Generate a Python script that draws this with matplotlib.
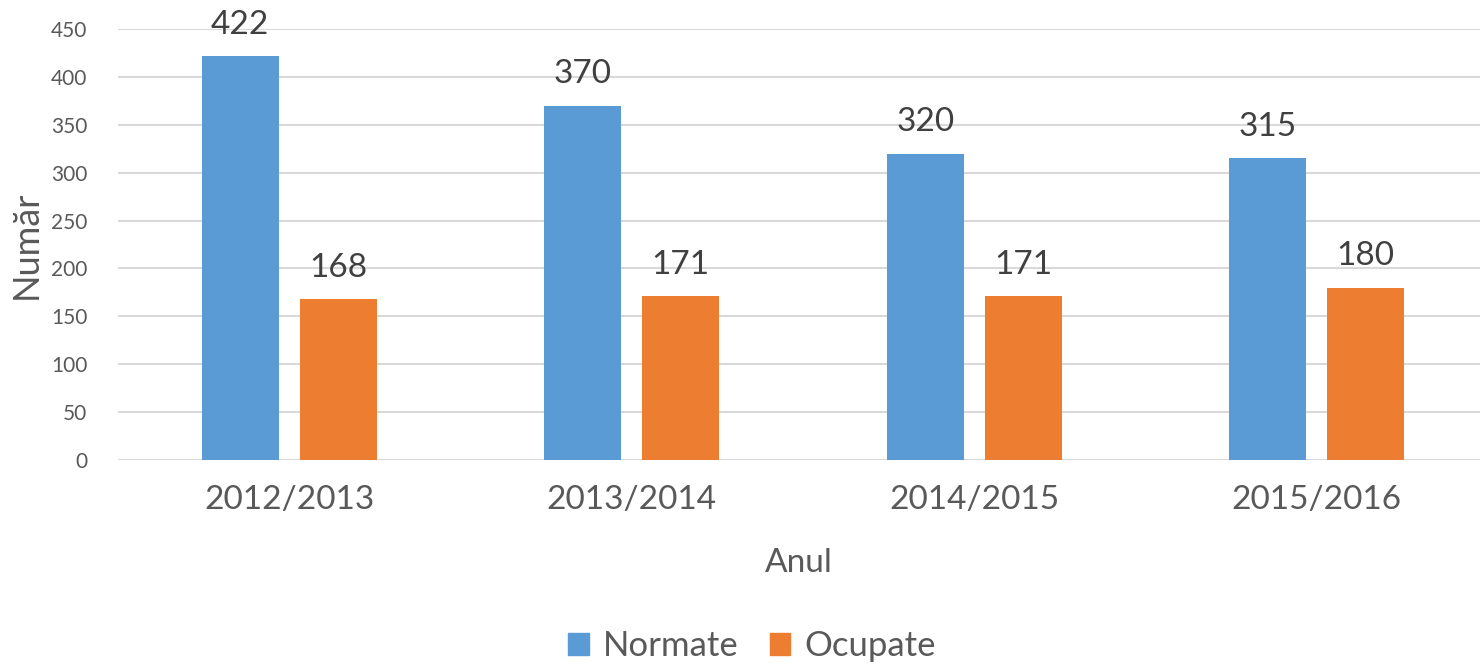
import numpy as np
import matplotlib.pyplot as plt
from matplotlib.patches import Patch

plt.rcParams['font.family'] = ['Lato', 'DejaVu Sans']

# data
years = ["2012/2013", "2013/2014", "2014/2015", "2015/2016"]
normate = [422, 370, 320, 315]
ocupate = [168, 171, 171, 180]

blue = "#5B9BD5"
orange = "#ED7D31"
grey_txt = "#595959"

fig = plt.figure(figsize=(14.8, 6.65), dpi=100)
ax = fig.add_axes([118 / 1480, 1 - 460 / 665, 1 - 118 / 1480, (460 - 29) / 665])

x = np.arange(len(years))
w = 0.225
off = 0.143

b1 = ax.bar(x - off, normate, w, color=blue, zorder=3)
b2 = ax.bar(x + off, ocupate, w, color=orange, zorder=3)

for bars, vals in ((b1, normate), (b2, ocupate)):
    for rect, v in zip(bars, vals):
        ax.annotate(str(v), (rect.get_x() + rect.get_width() / 2, v),
                    xytext=(0, 16), textcoords="offset points",
                    ha="center", va="baseline", fontsize=24,
                    color="#404040", annotation_clip=False)

ax.set_xlim(-0.5, (1480 - 118) / 342.5 - 0.5)
ax.set_ylim(0, 450)
ax.set_yticks(np.arange(0, 451, 50))
ax.set_xticks(x)
ax.set_xticklabels(years, fontsize=24, color=grey_txt)
ax.tick_params(axis="y", labelsize=15, labelcolor=grey_txt, length=0, pad=22)
ax.tick_params(axis="x", length=0, pad=18)
ax.grid(axis="y", color="#D9D9D9", linewidth=1.5, zorder=0)
for s in ax.spines.values():
    s.set_visible(False)

ax.set_xlabel("Anul", fontsize=24, color=grey_txt, labelpad=24)
ax.set_ylabel("Număr", fontsize=26, color=grey_txt, labelpad=6)

handles = [Patch(color=blue, label="Normate"), Patch(color=orange, label="Ocupate")]
leg = fig.legend(handles=handles, loc="center", bbox_to_anchor=(0.508, 1 - 646 / 665),
                 ncol=2, frameon=False, fontsize=25, handlelength=0.6, handleheight=0.6,
                 handletextpad=0.4, columnspacing=0.9)
for t in leg.get_texts():
    t.set_color(grey_txt)

fig.savefig("out.png", dpi=100)
